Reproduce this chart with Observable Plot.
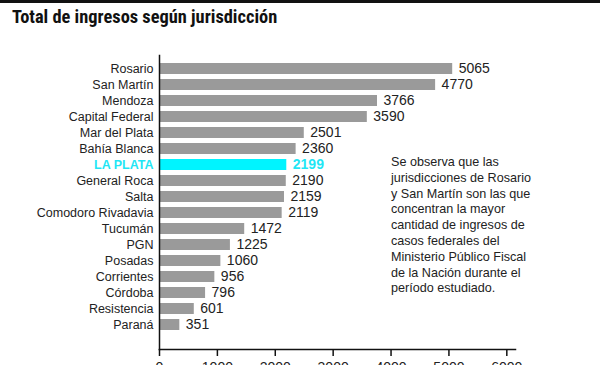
<!DOCTYPE html>
<html><head><meta charset="utf-8">
<script src="https://cdn.jsdelivr.net/npm/d3@7"></script>
<script src="https://cdn.jsdelivr.net/npm/@observablehq/plot@0.6"></script>
<style>
html,body{margin:0;padding:0;overflow:hidden;background:#fff;width:600px;height:365px}
#wrap{position:relative;width:600px;height:365px;overflow:hidden}
#topbar{position:absolute;left:0;top:0;width:600px;height:3px;background:#111}
#title{position:absolute;left:12px;top:7px;font:bold 18.4px/20px "Liberation Sans Narrow","Roboto Condensed","Arial Narrow",sans-serif;color:#111;white-space:nowrap}
#chart{position:absolute;left:0;top:40px}
#note{position:absolute;left:391px;top:155px;font:12.6px/15.8px "Liberation Sans",Arial,sans-serif;color:#222;white-space:nowrap}
</style></head>
<body><div id="wrap"><div id="topbar"></div>
<div id="title">Total de ingresos según jurisdicción</div>
<div id="chart"></div>
<div id="note">Se observa que las<br>jurisdicciones de Rosario<br>y San Martín son las que<br>concentran la mayor<br>cantidad de ingresos de<br>casos federales del<br>Ministerio Público Fiscal<br>de la Nación durante el<br>período estudiado.</div>
</div>
<script>
const jurisdicciones = ["Rosario","San Martín","Mendoza","Capital Federal","Mar del Plata","Bahía Blanca","LA PLATA","General Roca","Salta","Comodoro Rivadavia","Tucumán","PGN","Posadas","Corrientes","Córdoba","Resistencia","Paraná"];
const ingresos = [5065,4770,3766,3590,2501,2360,2199,2190,2159,2119,1472,1225,1060,956,796,601,351];
const destacada = "LA PLATA";
const xTicks = [0,1000,2000,3000,4000,5000,6000];

const GRAY = "#9a9a9a", CYAN = "#00f4ff", CYAN_TEXT = "#1fe6f5", INK = "#222";
const data = jurisdicciones.map((j, i) => ({j, v: ingresos[i]}));
const isHL = d => d.j === destacada;
const rest = data.filter(d => !isHL(d));
const hl = data.filter(isHL);

const chart = Plot.plot({
  width: 600, height: 350,
  marginLeft: 159, marginRight: 85, marginTop: 15, marginBottom: 41,
  style: {fontFamily: "'Liberation Sans', Arial, sans-serif", background: "transparent", color: INK},
  x: {domain: [0, 6150], axis: null},
  y: {domain: jurisdicciones, range: [12.3, 301.9], padding: 0.3, axis: null},
  color: {type: "identity"},
  marks: [
    Plot.barX(data, {x: "v", y: "j", fill: d => isHL(d) ? CYAN : GRAY}),
    Plot.text(rest, {x: "v", y: "j", text: d => String(d.v), dx: 6, textAnchor: "start", fontSize: 14, fill: INK}),
    Plot.text(hl, {x: "v", y: "j", text: d => String(d.v), dx: 6, textAnchor: "start", fontSize: 14, fontWeight: "bold", fill: CYAN_TEXT}),
    Plot.text(rest, {x: 0, y: "j", text: "j", dx: -6, textAnchor: "end", fontSize: 12.5, fill: INK}),
    Plot.text(hl, {x: 0, y: "j", text: "j", dx: -6, textAnchor: "end", fontSize: 12.5, fontWeight: "bold", fill: CYAN_TEXT}),
    Plot.frame({anchor: "left", stroke: "#111", strokeWidth: 1.5}),
    Plot.frame({anchor: "bottom", stroke: "#111", strokeWidth: 1.5}),
    Plot.axisX({ticks: xTicks, tickSize: 7, tickPadding: 6, fontSize: 14, tickFormat: d => String(d), stroke: "#111", strokeWidth: 1.5, fill: INK, label: null})
  ]
});
document.getElementById("chart").appendChild(chart);
</script>
</body></html>
